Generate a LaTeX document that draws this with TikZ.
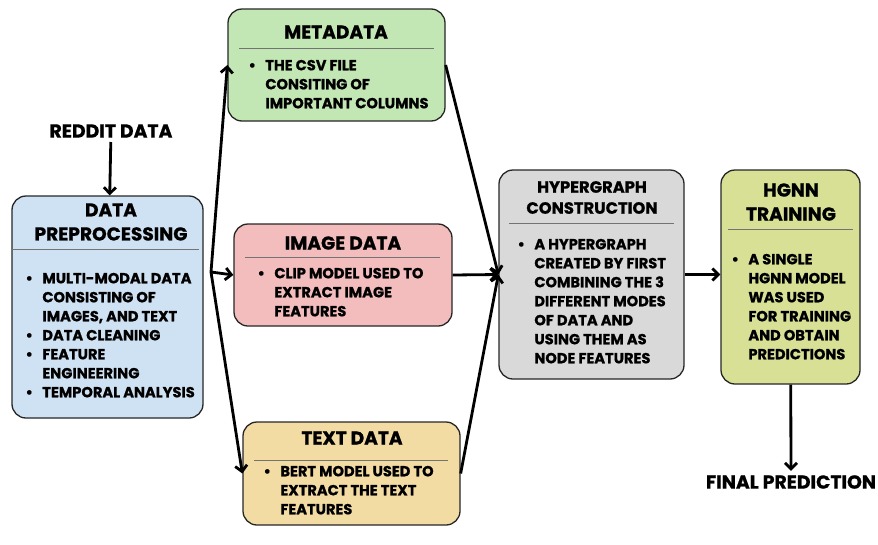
\documentclass[tikz,border=0pt]{standalone}
\usepackage{fontspec}
\setmainfont{Poppins}[BoldFeatures={FakeBold=0.9}]
\usetikzlibrary{arrows.meta}

\definecolor{prepfill}{HTML}{CFE2F3}
\definecolor{metafill}{HTML}{C3E7B4}
\definecolor{imgfill}{HTML}{F4BDBD}
\definecolor{txtfill}{HTML}{F3DBA4}
\definecolor{hypfill}{HTML}{D9D9D9}
\definecolor{hgnnfill}{HTML}{D8E096}

\newcommand{\itm}{\leavevmode\llap{\textbullet\hspace{9.5pt}}}

\begin{document}
\begin{tikzpicture}[x=1pt, y=-1pt, -{Straight Barb[length=6pt, width=12pt]}, line width=2.8pt]
		\tikzstyle{box} = [draw=black!85, line width=1.3pt, rounded corners=14pt, inner sep=0pt]
		\tikzstyle{head} = [font=\fontsize{18.6}{24}\selectfont\bfseries, align=center, inner sep=0pt]
		\tikzstyle{items} = [font=\fontsize{14.6}{19}\selectfont\bfseries, align=left, anchor=north west, inner sep=0pt]
		\tikzstyle{divider} = [-, draw=black!55, line width=0.9pt]
		\tikzstyle{endtext} = [font=\fontsize{18.8}{20}\selectfont\bfseries, inner sep=3pt]
		\useasboundingbox (0,0) rectangle (878,544);
		% boxes
		\node[box, fill=prepfill, minimum width=191pt, minimum height=222pt](prep) at (107.5,307) {};
		\node[box, fill=metafill, minimum width=217pt, minimum height=112pt](meta) at (336.5,65) {};
		\node[box, fill=imgfill, minimum width=218pt, minimum height=102pt](img) at (343,275) {};
		\node[box, fill=txtfill, minimum width=217pt, minimum height=103pt](txt) at (351.5,473.5) {};
		\node[box, fill=hypfill, minimum width=185pt, minimum height=209pt](hyp) at (591.5,274.5) {};
		\node[box, fill=hgnnfill, minimum width=139pt, minimum height=214pt](hgnn) at (790.5,277) {};
		% titles
		\node[head](prephead) at (111,222) {DATA\\PREPROCESSING};
		\node[head](metahead) at (336,32) {METADATA};
		\node[head](imghead) at (343,243) {IMAGE DATA};
		\node[head](txthead) at (352,438) {TEXT DATA};
		\node[head, font=\fontsize{16.3}{21}\selectfont\bfseries](hyphead) at (592,197.5) {HYPERGRAPH\\CONSTRUCTION};
		\node[head](hgnnhead) at (791,202) {HGNN\\TRAINING};
		\draw[divider] (12,249) -- (199,249);
		\draw[divider] (239,48) -- (434,48);
		\draw[divider] (245,257) -- (440,257);
		\draw[divider] (254,460) -- (448,460);
		\draw[divider] (509,223) -- (674,223);
		\draw[divider] (728,229) -- (853,229);
		% bullet texts
		\node[items](prepitems) at (41,271.5) {\itm MULTI-MODAL DATA\\CONSISTING OF\\IMAGES, AND TEXT\\\itm DATA CLEANING\\\itm FEATURE\\ENGINEERING\\\itm TEMPORAL ANALYSIS};
		\node[items](metaitems) at (264,58.5) {\itm THE CSV FILE\\CONSITING OF\\IMPORTANT COLUMNS};
		\node[items](imgitems) at (273,266.5) {\itm CLIP MODEL USED TO\\EXTRACT IMAGE\\FEATURES};
		\node[items](txtitems) at (279,464.5) {\itm BERT MODEL USED TO\\EXTRACT THE TEXT\\FEATURES};
		\node[items](hypitems) at (533,237.5) {\itm A HYPERGRAPH\\CREATED BY FIRST\\COMBINING THE 3\\DIFFERENT MODES\\OF DATA AND\\USING THEM AS\\NODE FEATURES};
		\node[items](hgnnitems) at (747,252.5) {\itm A SINGLE\\HGNN MODEL\\WAS USED\\FOR TRAINING\\AND OBTAIN\\PREDICTIONS};
		% outside texts
		\node[endtext](reddit) at (111,131) {REDDIT DATA};
		\node[endtext](final) at (791,482) {FINAL PREDICTION};
		\coordinate (fork) at (211,272);
		% connectors
		\path (reddit) edge (prep);
		\path (fork) edge (meta.west);
		\path (fork) edge (img.west);
		\path (fork) edge (txt.west);
		\path (meta.east) edge (hyp.west);
		\path (img.east) edge (hyp.west);
		\path (txt.east) edge (hyp.west);
		\path (hyp.east) edge (hyp.east -| hgnn.west);
		\path (hgnn) edge (final);
	\end{tikzpicture}
\end{document}
